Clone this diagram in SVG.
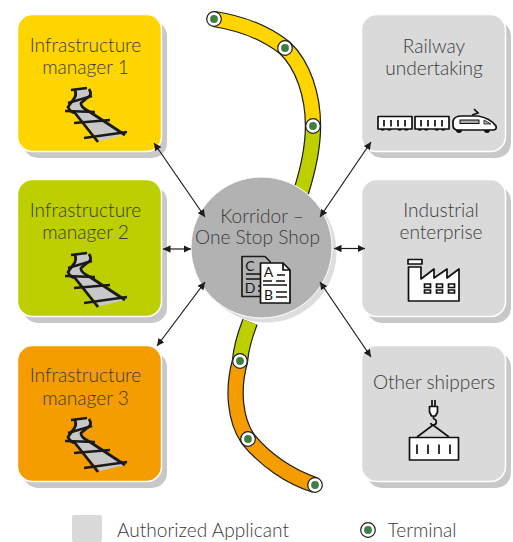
<svg xmlns="http://www.w3.org/2000/svg" width="513" height="542" viewBox="0 0 513 542">
<style>
text{font-family:"Lato","Liberation Sans",sans-serif;font-weight:300;font-size:19.1px;fill:#3a3a3a;text-anchor:middle}
.sh{fill:#c8c8c8}
.box{stroke:#fff;stroke-width:1.5}
.y{fill:#ffd500}.g{fill:#bdcf00}.o{fill:#f59c00}.n{fill:#dadada}
.ln{fill:none;stroke:#1d1d1b;stroke-width:1.2;marker-start:url(#ah);marker-end:url(#ah)}
.tk{fill:none;stroke-linecap:butt}
.ic{fill:#fff;stroke:#111;stroke-width:1.7;stroke-linejoin:round}
.bl{fill:none;stroke:#111;stroke-width:1.7}
.rail{fill:none;stroke:#1a1a1a;stroke-width:2.8;stroke-linejoin:round}
.tie{fill:none;stroke:#1a1a1a;stroke-width:2.4}
.dl{font-size:14px;font-weight:400;fill:#111}
</style>
<defs>
<marker id="ah" viewBox="0 0 10 10" refX="10" refY="5" markerWidth="7.500" markerHeight="7.500" orient="auto-start-reverse" markerUnits="userSpaceOnUse"><path d="M0,0L10,5L0,10z" fill="#1d1d1b"/></marker>
<g id="track">
<path d="M76,90L88,89 90,95 81,103 90,112 125,135 100,141 76,113 69,107 76,98z" fill="#c8c8c8"/>
<path class="rail" d="M89,89Q93,95 87,98L81,103Q80,107 90,112L125,135M75,90Q77,96 73,100L68,107Q70,112 75,113L98,142"/>
<path class="tie" d="M71,90L87,88M68,103L92,96M65,111L95,112M74,123L110,120M84,138L127,132"/>
</g>
<g id="term"><circle r="7.300" fill="#fff" stroke="#1d1d1b" stroke-width="1.200"/><circle r="3.900" fill="#3f7d45"/></g>
<g id="wagon"><rect x="0" y="0" width="34" height="12.500" class="ic"/><path class="bl" d="M6,3.500V10M13,3.500V10M20,3.500V10M27,3.500V10"/><path d="M2,12.500a3,3 0 0 0 5.500,0h1a3,3 0 0 0 5.500,0zM19,12.500a3,3 0 0 0 5.500,0h1a3,3 0 0 0 5.500,0z" fill="#111"/></g>
</defs>

<g id="tracks">
<path class="tk" stroke="#1d1d1b" stroke-width="16.400" d="M214,19C240,23 266,33 285,48C303,65 313,95 313,126C313,150 308,170 301,192"/>
<path class="tk" stroke="#ffd500" stroke-width="14" d="M214,19C240,23 266,33 285,48C303,65 313,95 313,126"/>
<path class="tk" stroke="#bdcf00" stroke-width="14" d="M313,126C313,150 308,170 301,192"/>
<path class="tk" stroke="#1d1d1b" stroke-width="16.400" d="M250,322C245,335 241,348 240,361C232,390 235,420 248,439C265,460 290,477 315,485"/>
<path class="tk" stroke="#bdcf00" stroke-width="14" d="M250,322C245,335 241,348 240,361"/>
<path class="tk" stroke="#f59c00" stroke-width="14" d="M240,361C232,390 235,420 248,439C265,460 290,477 315,485"/>
<use href="#term" x="214" y="19"/><use href="#term" x="285" y="48"/><use href="#term" x="313" y="126"/>
<use href="#term" x="240" y="361"/><use href="#term" x="248" y="439"/><use href="#term" x="315" y="485"/>
</g>

<g id="im1"><rect class="sh" x="23" y="21" width="144" height="137" rx="15"/><rect class="box y" x="17.500" y="14.500" width="144" height="137" rx="15"/><text x="85.500" y="51.500">Infrastructure</text><text x="85.500" y="74">manager 1</text><use href="#track"/></g>
<g id="im2"><rect class="sh" x="23" y="186" width="144" height="137" rx="15"/><rect class="box g" x="17.500" y="179.500" width="144" height="137" rx="15"/><text x="85.500" y="216.500">Infrastructure</text><text x="85.500" y="239">manager 2</text><use href="#track" y="165"/></g>
<g id="im3"><rect class="sh" x="23" y="352" width="144" height="136" rx="15"/><rect class="box o" x="17.500" y="345.500" width="144" height="136" rx="15"/><text x="85.500" y="381.500">Infrastructure</text><text x="85.500" y="405">manager 3</text><use href="#track" y="330"/></g>

<g id="ru"><rect class="sh" x="367" y="21" width="144" height="137" rx="15"/><rect class="box n" x="361.500" y="14.500" width="144" height="137" rx="15"/><text x="434" y="52.500">Railway</text><text x="434" y="75">undertaking</text>
<use href="#wagon" x="378" y="116.500"/><use href="#wagon" x="415" y="116.500"/>
<path class="ic" d="M453,121Q454,116 462,116H478Q490,118 496,126Q497,130 493,130H458Q453,130 453,125z"/><rect x="460" y="120" width="19" height="3.500" fill="#aaa" stroke="#111" stroke-width="1"/><path d="M484,120L491,124H484z" fill="#aaa" stroke="#111" stroke-width=".8"/><path class="bl" d="M472,115L478,113 474,109"/><path d="M456,130a3,3 0 0 0 6,0zM484,130a3,3 0 0 0 6,0z" fill="#111"/></g>

<g id="ie"><rect class="sh" x="367" y="186" width="144" height="137" rx="15"/><rect class="box n" x="361.500" y="179.500" width="144" height="137" rx="15"/><text x="441" y="216.500">Industrial</text><text x="441" y="239">enterprise</text>
<path class="ic" d="M408.500,301V267H421V279L434,269V278L447,269V278L459,269V301z"/><rect class="ic" x="408" y="259.500" width="14" height="4.500"/>
<path class="bl" d="M424.500,284h6v3.500h-6zM436.500,284h6v3.500h-6zM448.500,284h6v3.500h-6zM424.500,290h6v3h-6zM436.500,290h6v3h-6zM448.500,290h6v3h-6z"/></g>

<g id="os"><rect class="sh" x="367" y="352" width="144" height="136" rx="15"/><rect class="box n" x="361.500" y="345.500" width="144" height="136" rx="15"/><text x="434" y="388.500">Other shippers</text>
<path class="bl" d="M432,400V406M435,400V406"/><path class="ic" d="M429.500,406.500H437.500V412L435.500,416H431.500L429.500,412z"/><path class="bl" d="M433.500,416V419M430.500,423a3,3 0 1 0 3,-4"/>
<path class="bl" d="M417,437L433,425 449,437"/><rect class="ic" x="409.500" y="437.500" width="49" height="22.500"/><path class="bl" d="M417,444.500V454M428,444.500V454M439,444.500V454M450,444.500V454"/></g>

<g id="hub"><circle cx="266" cy="252" r="70.500" fill="#dedede"/><circle cx="261.500" cy="247.500" r="70.500" fill="#b2b2b2" stroke="#fff" stroke-width="1"/><text x="262" y="222.500">Korridor –</text><text x="257.500" y="243.500">One Stop Shop</text>
<path d="M242,256.500H265L270,261.500V296.500H242z" fill="#b2b2b2" stroke="#1d1d1b" stroke-width="1.700" stroke-linejoin="round"/>
<path class="bl" d="M246,274H262M246,279H262M258,286H268M258,291H268"/>
<text class="dl" x="250" y="271">C</text><text class="dl" x="250" y="293">D</text>
<path class="ic" d="M260.500,263H283L290,270V303H260.500z"/><path class="bl" d="M283,263V270H290"/>
<text class="dl" x="268.500" y="277">A</text><text class="dl" x="268.500" y="300">B</text>
<path class="bl" d="M277,275H285M263,281H272M276,281H285M263,285H287M276,292H287M276,297H287"/></g>

<g id="connectors">
<path class="ln" d="M154,143L205,217"/>
<path class="ln" d="M163,249H191"/>
<path class="ln" d="M157,346L205,282"/>
<path class="ln" d="M371,142L320,217"/>
<path class="ln" d="M334,248.500H365"/>
<path class="ln" d="M371,357L320,282"/>
</g>

<g id="legend"><rect x="72" y="515" width="30" height="27" rx="2" fill="#dadada"/><text x="203" y="536.500">Authorized Applicant</text><use href="#term" x="368" y="530"/><text x="422" y="536.500">Terminal</text></g>
</svg>
